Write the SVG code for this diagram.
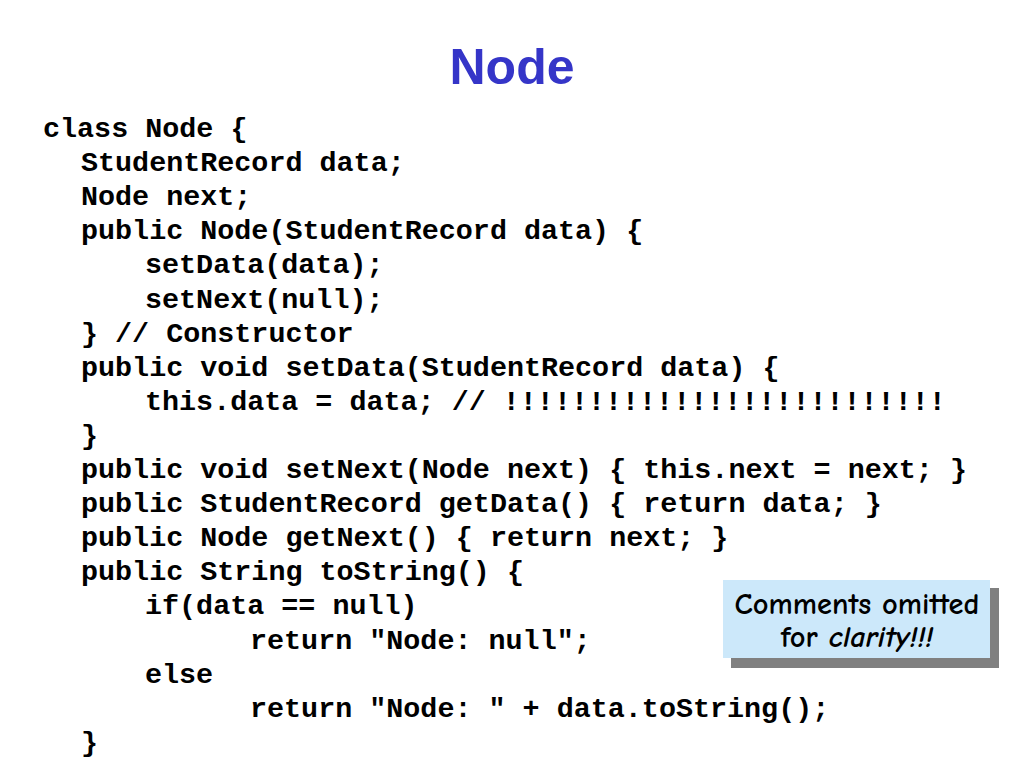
<svg xmlns="http://www.w3.org/2000/svg" width="1024" height="768" viewBox="0 0 1024 768">
<style>
.code{font-family:"Liberation Mono","Courier New",monospace;font-weight:bold;font-size:28.4px;fill:#000;white-space:pre}
.title{font-family:"Liberation Sans",Arial,sans-serif;font-weight:bold;font-size:50px;fill:#3535C8}
.note{font-family:"Comic Neue","Comic Sans MS","Open Sans","DejaVu Sans",sans-serif;font-size:30.4px;font-weight:bold;fill:#000}
</style>
<rect width="1024" height="768" fill="#fff"/>
<g id="title"><text class="title" x="512" y="84" text-anchor="middle">Node</text></g>
<g id="code" xml:space="preserve">
<text class="code" x="43" y="137">class Node {</text>
<text class="code" x="81" y="171.1">StudentRecord data;</text>
<text class="code" x="81" y="205.2">Node next;</text>
<text class="code" x="81" y="239.3">public Node(StudentRecord data) {</text>
<text class="code" x="145" y="273.4">setData(data);</text>
<text class="code" x="145" y="307.5">setNext(null);</text>
<text class="code" x="81" y="341.6">} // Constructor</text>
<text class="code" x="81" y="375.7">public void setData(StudentRecord data) {</text>
<text class="code" x="145" y="409.8">this.data = data; // !!!!!!!!!!!!!!!!!!!!!!!!!!</text>
<text class="code" x="81" y="443.9">}</text>
<text class="code" x="81" y="478">public void setNext(Node next) { this.next = next; }</text>
<text class="code" x="81" y="512.1">public StudentRecord getData() { return data; }</text>
<text class="code" x="81" y="546.2">public Node getNext() { return next; }</text>
<text class="code" x="81" y="580.3">public String toString() {</text>
<text class="code" x="145" y="614.4">if(data == null)</text>
<text class="code" x="250" y="648.5">return "Node: null";</text>
<text class="code" x="145" y="682.6">else</text>
<text class="code" x="250" y="716.7">return "Node: " + data.toString();</text>
<text class="code" x="81" y="750.8">}</text>
</g>
<g id="callout">
<rect x="731" y="588" width="268" height="80" fill="#808080"/>
<rect x="723" y="580" width="267" height="78" fill="#cce8fa"/>
<text class="note" x="857" y="614" text-anchor="middle">Comments omitted</text>
<text class="note" x="857" y="647" text-anchor="middle">for <tspan font-style="italic">clarity!!!</tspan></text>
</g>
</svg>
